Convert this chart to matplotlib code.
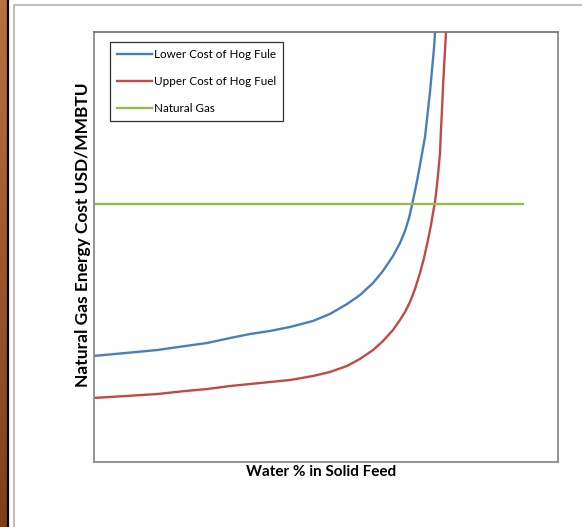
import numpy as np
import matplotlib
matplotlib.use("Agg")
import matplotlib.pyplot as plt
from matplotlib.colors import LinearSegmentedColormap

# water % (arbitrary scale, chart has no tick labels) and cost values
water_lower = [0, 6.68, 13.58, 19.61, 24.35, 29.31, 33.62, 37.93, 42.24, 47.20,
               50.86, 54.53, 57.33, 60.13, 62.28, 64.44, 65.95, 67.03, 67.89, 68.53,
               69.18, 69.61, 70.26, 70.91, 71.34, 71.98, 72.41, 72.84, 73.28, 73.49, 73.71]
cost_lower = [7.40, 7.60, 7.81, 8.09, 8.30, 8.65, 8.93, 9.14, 9.42, 9.84,
              10.33, 11.02, 11.65, 12.49, 13.33, 14.37, 15.28, 16.12, 17.02, 17.93,
              18.91, 19.60, 20.72, 21.91, 22.67, 24.56, 25.81, 27.35, 28.88, 29.93, 30.70]

water_upper = [0, 6.68, 13.58, 19.61, 24.35, 29.31, 33.62, 37.93, 42.24, 47.20,
               50.86, 54.53, 57.33, 60.13, 62.28, 64.44, 65.95, 67.03, 68.10, 69.18,
               70.26, 71.12, 71.98, 72.63, 73.06, 73.49, 73.92, 74.14, 74.57, 74.78,
               75.00, 75.22, 75.43, 75.65, 75.86, 75.97]
cost_upper = [4.47, 4.60, 4.74, 4.95, 5.09, 5.30, 5.44, 5.58, 5.72, 6.00,
              6.28, 6.70, 7.19, 7.81, 8.44, 9.21, 9.91, 10.47, 11.16, 12.07,
              13.19, 14.23, 15.49, 16.53, 17.37, 18.14, 19.33, 20.02, 21.56, 23.16,
              24.56, 26.16, 27.49, 28.74, 29.93, 30.70]

water_gas = [0, 92.5]
cost_gas = [18.0, 18.0]

labels = ["Lower Cost of Hog Fule", "Upper Cost of Hog Fuel", "Natural Gas"]


def main():
    fig = plt.figure(figsize=(5.82, 5.27), dpi=100)
    fig.patch.set_facecolor("white")

    # brown strip on the left edge
    strip = fig.add_axes([0, 0, 7 / 582, 1])
    grad = np.linspace(0, 1, 256).reshape(-1, 1)
    cm = LinearSegmentedColormap.from_list("br", ["#B87142", "#7E3E1E"])
    strip.imshow(grad, aspect="auto", cmap=cm, extent=[0, 1, 0, 1])
    strip.axis("off")
    fig.add_artist(plt.Line2D([8 / 582, 8 / 582], [0, 1], color="black", lw=1.6, transform=fig.transFigure))
    # outer chart border
    fig.add_artist(plt.Line2D([14 / 582, 14 / 582, 1.0], [0, 1 - 5 / 527, 1 - 5 / 527],
                              color="#B0B0B0", lw=1.2, transform=fig.transFigure))

    ax = fig.add_axes([94 / 582, 65 / 527, 464 / 582, 430 / 527])
    ax.plot(water_lower, cost_lower, color="#4A7EBB", lw=1.7, label=labels[0])
    ax.plot(water_upper, cost_upper, color="#BE4B48", lw=1.7, label=labels[1])
    ax.plot(water_gas, cost_gas, color="#98B954", lw=1.7, label=labels[2])
    ax.set_xlim(0, 100)
    ax.set_ylim(0, 30)
    ax.set_xticks([])
    ax.set_yticks([])
    for s in ax.spines.values():
        s.set_color("#8C8C8C")
        s.set_linewidth(1.3)
    ax.spines["top"].set_color("#7A7A7A")

    leg = ax.legend(loc="upper left", bbox_to_anchor=(16 / 464, 1 - 10 / 430), borderaxespad=0,
                    fancybox=False, edgecolor="#333333", framealpha=1, handlelength=3.0,
                    handletextpad=0.15, labelspacing=1.38, borderpad=0.6,
                    prop={"family": "Lato", "size": 8.4})
    leg.get_frame().set_linewidth(0.9)

    fig.text(83 / 582, 1 - 235 / 527, "Natural Gas Energy Cost USD/MMBTU", rotation=90,
             ha="center", va="center", family="Lato", weight="bold", fontsize=12.5)
    fig.text(321.5 / 582, 1 - 472 / 527, "Water % in Solid Feed", ha="center", va="center",
             family="Lato", weight="bold", fontsize=11)

    fig.savefig("out.png", dpi=100)


if __name__ == "__main__":
    main()
